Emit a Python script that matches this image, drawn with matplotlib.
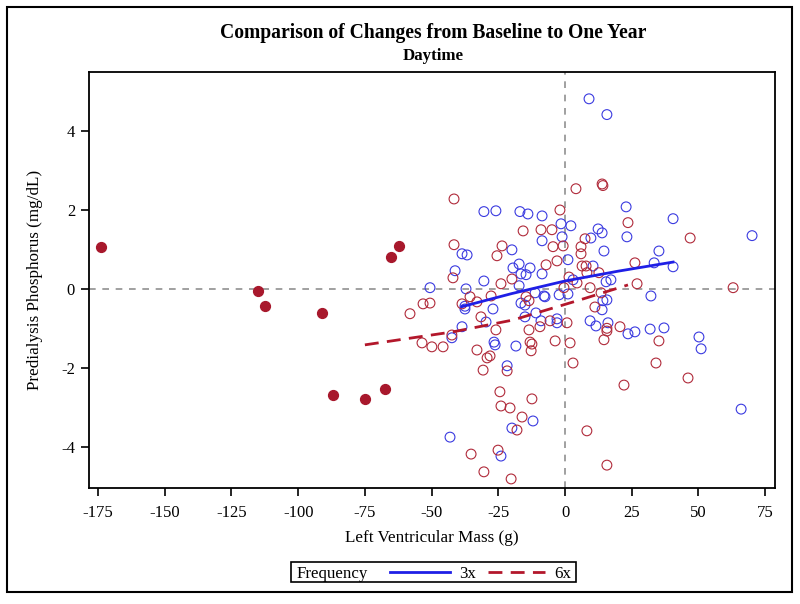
import matplotlib
matplotlib.use("Agg")
import matplotlib.pyplot as plt
from matplotlib.patches import Rectangle
from matplotlib.lines import Line2D

plt.rcParams['font.family'] = ['Liberation Serif', 'DejaVu Serif']
plt.rcParams['axes.unicode_minus'] = False

# 3x frequency (open blue circles)
blue_x = [-30.4, -25.9, -16.9, -13.9, -8.6, -1.5, 2.2, -8.6, -1.1, -38.6, -36.7, -19.9, 1.1,
          -17.2, -19.5, -13.1, -16.5, -14.6, -8.6, -41.2, -30.4, -50.6, -37.1, -17.2, 3.0,
          9.0, 15.7, 22.9, 40.5, 70.1, 23.2, 12.4, 13.9, 9.7, 14.6, 35.2, 10.5, 33.4, 40.5,
          15.4, 17.2,
          -37.5, -37.5, -27.0, -16.5, -15.0, -11.2, -7.9, -7.5, -2.2, 1.1, -10.9, -15.0, -29.6,
          -9.0, -3.0, -3.0, -38.6, -42.4, -26.6, -26.2, -18.4, -21.7, -12.0, -19.9, -43.1, -24.0,
          32.2, 13.9, 14.2, 15.7, 9.4, 11.6, 16.1, 23.6, 26.2, 31.9, 37.1, 50.2, 51.0, 66.0]
blue_y = [1.96, 1.98, 1.96, 1.90, 1.85, 1.65, 1.60, 1.22, 1.32, 0.89, 0.86, 0.99, 0.74,
          0.63, 0.53, 0.53, 0.38, 0.36, 0.38, 0.46, 0.20, 0.03, 0.00, 0.08, 0.23,
          4.82, 4.42, 2.08, 1.78, 1.35, 1.32, 1.52, 1.42, 1.29, 0.96, 0.96, 0.58, 0.66, 0.56,
          0.18, 0.23,
          -0.51, -0.44, -0.51, -0.36, -0.41, -0.10, -0.18, -0.20, -0.15, -0.13, -0.61, -0.71, -0.84,
          -0.81, -0.76, -0.86, -0.96, -1.24, -1.35, -1.42, -1.45, -1.95, -3.35, -3.53, -3.76, -4.24,
          -0.18, -0.53, -0.30, -0.28, -0.81, -0.94, -0.86, -1.14, -1.09, -1.02, -0.99, -1.22, -1.52, -3.05]

# 6x frequency (open red circles)
red_x = [4.1, -41.6, -1.9, -15.7, -9.0, -4.9, -4.5, -0.7, -41.6, -23.6, -25.5, -7.1, -3.0,
         -42.0, 1.5, -19.9, -24.0, -0.4,
         13.9, 14.2, 23.6, 46.9, 7.5, 6.0, 6.0, 6.4, 7.9, 26.2, 8.2, 12.7, 4.5, 9.4, 27.0, 63.0,
         -35.6, -33.0, -27.7, -53.2, -50.6, -58.1, -38.6, -14.6, -13.5, -31.5, -9.4, -5.6, 0.75,
         -13.5, -25.9, -42.4, -53.6, -49.9, -45.7, -13.1, -12.4, -12.7, -3.7, 1.9, 3.0, -33.0,
         -29.2, -28.1, -30.7, -21.7, -24.4, -12.4, -24.0, -20.6, -16.1, -18.0, -35.2, -25.1,
         -30.4, -20.2,
         11.2, 13.5, 15.7, 15.7, 14.6, 20.6, 35.2, 34.1, 46.1, 22.1, 8.2, 15.7]
red_y = [2.54, 2.28, 2.00, 1.47, 1.50, 1.50, 1.07, 1.09, 1.12, 1.09, 0.84, 0.61, 0.71,
         0.28, 0.30, 0.25, 0.13, 0.03,
         2.66, 2.62, 1.68, 1.29, 1.27, 1.07, 0.89, 0.58, 0.58, 0.66, 0.41, 0.41, 0.15, 0.03, 0.13, 0.03,
         -0.20, -0.33, -0.18, -0.38, -0.36, -0.63, -0.38, -0.20, -0.30, -0.71, -0.96, -0.81, -0.86,
         -1.04, -1.04, -1.17, -1.37, -1.47, -1.47, -1.35, -1.40, -1.57, -1.32, -1.37, -1.88, -1.55,
         -1.75, -1.70, -2.06, -2.08, -2.61, -2.79, -2.97, -3.02, -3.25, -3.58, -4.19, -4.09,
         -4.64, -4.82,
         -0.46, -0.10, -1.00, -1.07, -1.29, -0.96, -1.32, -1.88, -2.26, -2.44, -3.60, -4.47]

# filled red points
filled_x = [-173.9, -115.0, -112.4, -91.0, -87.0, -75.0, -67.5, -65.2, -62.2]
filled_y = [1.07, -0.05, -0.43, -0.61, -2.69, -2.79, -2.54, 0.81, 1.09]

# fitted curves
fit3_x = [-38.6, -20.0, 0.0, 20.0, 40.5]
fit3_y = [-0.45, -0.12, 0.20, 0.45, 0.68]
fit6_x = [-75.0, -42.0, -19.5, 5.6, 23.6]
fit6_y = [-1.42, -1.09, -0.79, -0.28, 0.10]

xticks = [-175, -150, -125, -100, -75, -50, -25, 0, 25, 50, 75]
yticks = [-4, -2, 0, 2, 4]

BLUE = '#3a3ae0'
RED = '#b02a3a'
LBLUE = '#1f1fe6'
LRED = '#b3172b'

fig = plt.figure(figsize=(8.0, 6.04), dpi=100)
ax = fig.add_axes([89 / 800, 1 - 488 / 604, (775 - 89) / 800, (488 - 72) / 604])

ax.axhline(0, color='#909090', linestyle=(0, (4, 4)), lw=1.2, zorder=1)
ax.axvline(0, color='#909090', linestyle=(0, (4, 4)), lw=1.2, zorder=1)

ax.scatter(blue_x, blue_y, s=50, facecolors='none', edgecolors=BLUE, linewidths=0.8, zorder=2)
ax.scatter(red_x, red_y, s=50, facecolors='none', edgecolors=RED, linewidths=0.8, zorder=2)
ax.scatter(filled_x, filled_y, s=50, color='#a8182c', zorder=3)

ax.plot(fit3_x, fit3_y, color=LBLUE, lw=2, zorder=4)
ax.plot(fit6_x, fit6_y, color=LRED, lw=2, linestyle=(0, (5, 3)), zorder=4)

ax.set_xlim(-178.4, 78.7)
ax.set_ylim(-5.05, 5.5)
ax.set_xticks(xticks)
ax.set_yticks(yticks)
ax.tick_params(direction='out', length=6, width=1.2, labelsize=12)
ax.tick_params(axis='x', pad=6)
ax.tick_params(axis='y', pad=4)
for sp in ax.spines.values():
    sp.set_linewidth(1.3)

ax.set_xlabel('Left Ventricular Mass (g)', fontsize=12.3, labelpad=7)
ax.set_ylabel('Predialysis Phosphorus (mg/dL)', fontsize=12.3, labelpad=13)

fig.text(0.542, 1 - 33 / 604, 'Comparison of Changes from Baseline to One Year',
         ha='center', va='center', fontsize=14.1, fontweight='bold')
fig.text(0.542, 1 - 56 / 604, 'Daytime', ha='center', va='center', fontsize=12.2, fontweight='bold')

# outer border
fig.patches.append(Rectangle((7 / 800, 1 - 592 / 604), 785 / 800, 585 / 604,
                             transform=fig.transFigure, fill=False, lw=1.5, color='black'))

# legend box
ly = 1 - 572 / 604
fig.patches.append(Rectangle((291 / 800, 1 - 582 / 604), 285 / 800, 20 / 604,
                             transform=fig.transFigure, fill=False, lw=1.2, color='black'))
fig.text(297 / 800, ly, 'Frequency', ha='left', va='center_baseline', fontsize=12.2)
fig.lines.append(Line2D([390 / 800, 450 / 800], [ly, ly], transform=fig.transFigure,
                        color=LBLUE, lw=2))
fig.text(459 / 800, ly, '3x', ha='left', va='center_baseline', fontsize=12.2)
fig.lines.append(Line2D([488 / 800, 545 / 800], [ly, ly], transform=fig.transFigure,
                        color=LRED, lw=2, linestyle=(0, (5, 3))))
fig.text(554 / 800, ly, '6x', ha='left', va='center_baseline', fontsize=12.2)

fig.savefig('out.png', dpi=100)
